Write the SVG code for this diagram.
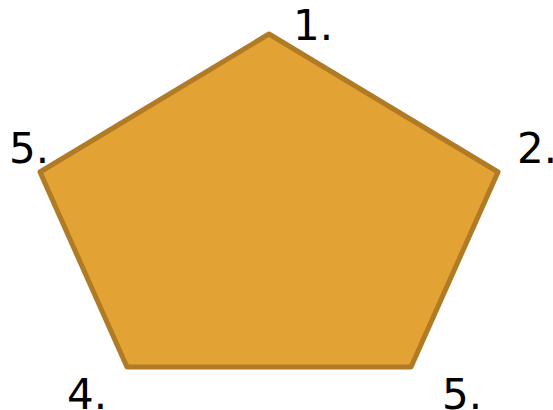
<svg xmlns="http://www.w3.org/2000/svg" width="553" height="410" viewBox="0 0 553 410">
<style>
.lbl{font-family:"DejaVu Sans",Verdana,sans-serif;font-size:42px;fill:#000}
.shape{fill:#E2A334;stroke:#B17A25;stroke-width:5;stroke-linejoin:round}
</style>
<rect width="553" height="410" fill="#fff"/>
<g id="pentagon">
<polygon class="shape" points="269,34 498,172 411,367 127,367 40,172"/>
</g>
<g id="labels">
<text class="lbl" x="293" y="40">1.</text>
<text class="lbl" x="517" y="163">2.</text>
<text class="lbl" x="9" y="163">5.</text>
<text class="lbl" x="67" y="409">4.</text>
<text class="lbl" x="442" y="409">5.</text>
</g>
</svg>
